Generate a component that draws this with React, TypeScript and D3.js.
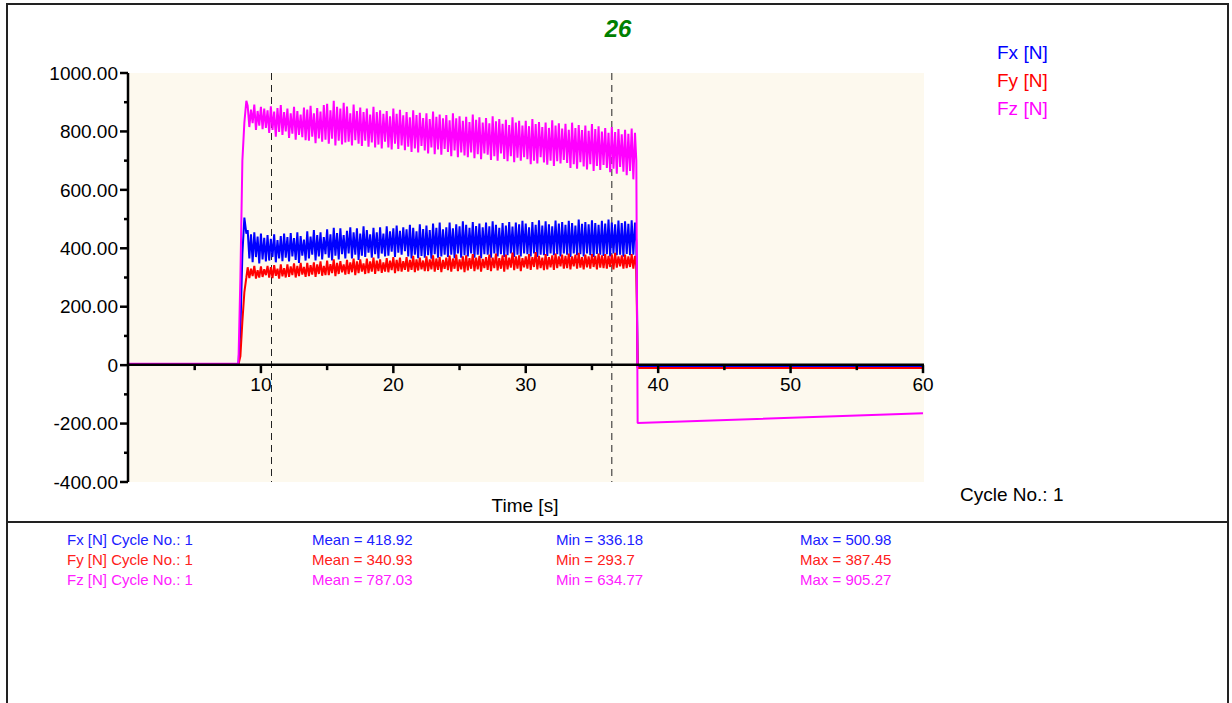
import React from "react";
import * as d3 from "d3";

const title = "26";
const seriesNames = ["Fx [N]", "Fy [N]", "Fz [N]"];
const seriesColors = ["#0000ff", "#ff0000", "#ff00ff"];
const statColors = ["#2020ff", "#ff2020", "#ff20ff"];
const xTicks = [10, 20, 30, 40, 50, 60];
const xMinorTicks = [5, 15, 25, 35, 45, 55];
const yTicks = [-400, -200, 0, 200, 400, 600, 800, 1000];
const yTickLabels = ["-400.00", "-200.00", "0", "200.00", "400.00", "600.00", "800.00", "1000.00"];
const yMinorTicks = [-300, -100, 100, 300, 500, 700, 900];
const cursorTimes = [10.8, 36.5];

// lead-in (before oscillating section)
const leadTimes = [0, 8.3, 8.45, 8.6, 8.75, 8.9];
const fxLead = [2, 2, 120, 380, 505, 450];
const fyLead = [2, 2, 30, 150, 250, 300];
const fzLead = [5, 5, 300, 700, 830, 905];

// oscillating section, sampled every 0.125 s from 9.0 s
const oscStart = 9.0;
const oscStep = 0.125;
const fzOsc = [
  888, 815, 875, 828, 892, 805, 870, 820, 884, 808, 878, 812,
  872, 795, 886, 805, 868, 782, 880, 798, 890, 788, 866, 800,
  878, 778, 862, 792, 884, 772, 870, 788, 858, 780, 882, 770,
  875, 768, 888, 782, 862, 760, 880, 776, 868, 765, 890, 772,
  895, 758, 872, 775, 905, 752, 884, 768, 878, 755, 898, 762,
  885, 765, 862, 752, 892, 770, 870, 758, 882, 750, 866, 768,
  878, 748, 858, 762, 884, 745, 866, 755, 872, 742, 860, 765,
  870, 745, 852, 738, 878, 758, 860, 740, 874, 752, 855, 736,
  866, 748, 848, 730, 872, 742, 856, 728, 864, 750, 846, 735,
  862, 725, 842, 745, 868, 722, 850, 738, 858, 720, 845, 740,
  856, 730, 838, 715, 862, 735, 845, 712, 852, 728, 836, 718,
  850, 712, 832, 728, 858, 708, 840, 722, 848, 705, 830, 725,
  846, 720, 828, 702, 852, 715, 835, 700, 842, 725, 826, 706,
  840, 698, 822, 715, 848, 695, 830, 710, 836, 700, 820, 712,
  836, 705, 818, 688, 842, 700, 825, 690, 832, 712, 815, 694,
  830, 686, 812, 700, 838, 682, 820, 698, 828, 690, 810, 702,
  826, 692, 806, 675, 830, 688, 812, 672, 822, 695, 805, 680,
  820, 670, 802, 688, 825, 665, 808, 682, 818, 668, 800, 685,
  812, 675, 795, 660, 815, 672, 798, 655, 808, 678, 790, 662,
  806, 650, 792, 665, 810, 636, 795,
];
const fxOsc = [
  462, 365, 448, 352, 455, 370, 440, 348, 450, 362, 436, 355,
  445, 358, 432, 370, 448, 352, 428, 365, 442, 356, 450, 368,
  438, 355, 452, 372, 435, 360, 455, 350, 442, 375, 430, 358,
  458, 365, 440, 378, 462, 358, 445, 372, 455, 362, 438, 380,
  465, 368, 448, 358, 470, 375, 452, 362, 468, 380, 445, 365,
  460, 382, 472, 365, 455, 378, 468, 360, 450, 375, 475, 370,
  462, 385, 448, 368, 470, 380, 455, 365, 472, 382, 450, 372,
  475, 375, 458, 388, 468, 370, 478, 385, 460, 378, 472, 390,
  465, 372, 480, 365, 470, 378, 458, 366, 482, 374, 466, 368,
  478, 376, 462, 364, 485, 380, 470, 368, 488, 372, 465, 378,
  472, 370, 488, 378, 468, 366, 482, 382, 475, 368, 492, 376,
  480, 372, 470, 382, 490, 368, 476, 378, 485, 366, 472, 380,
  488, 378, 475, 368, 492, 382, 480, 372, 470, 380, 486, 370,
  478, 376, 490, 382, 474, 370, 488, 378, 482, 372, 494, 382,
  485, 380, 472, 372, 490, 382, 480, 370, 496, 378, 478, 376,
  492, 374, 482, 382, 475, 376, 495, 380, 485, 372, 490, 382,
  480, 378, 494, 370, 486, 382, 478, 376, 498, 380, 484, 372,
  490, 382, 482, 376, 496, 370, 486, 381, 480, 378, 494, 374,
  485, 380, 498, 372, 488, 382, 482, 376, 495, 378, 486, 371,
  492, 381, 484, 376, 496, 378, 488,
];
const fyOsc = [
  335, 298, 330, 305, 340, 296, 325, 300, 338, 302, 328, 308,
  340, 300, 335, 298, 342, 306, 330, 296, 345, 304, 332, 300,
  345, 302, 338, 308, 348, 300, 340, 305, 350, 310, 336, 302,
  350, 305, 342, 310, 352, 302, 345, 312, 355, 306, 340, 308,
  358, 308, 346, 315, 362, 305, 350, 312, 356, 318, 345, 310,
  360, 312, 352, 318, 365, 308, 355, 315, 362, 320, 348, 312,
  365, 315, 355, 320, 368, 312, 358, 322, 362, 316, 352, 320,
  366, 318, 358, 325, 370, 315, 360, 322, 368, 320, 356, 326,
  370, 320, 360, 326, 374, 318, 362, 324, 368, 328, 358, 322,
  372, 322, 362, 328, 376, 320, 365, 326, 370, 318, 360, 330,
  368, 325, 375, 320, 365, 330, 378, 322, 362, 328, 372, 318,
  376, 324, 366, 330, 380, 322, 368, 328, 374, 320, 364, 332,
  370, 326, 378, 322, 368, 332, 382, 324, 366, 330, 376, 320,
  378, 328, 368, 334, 385, 325, 372, 330, 376, 322, 366, 335,
  372, 330, 380, 326, 370, 336, 387, 328, 374, 332, 368, 325,
  380, 328, 370, 335, 376, 326, 382, 332, 372, 338, 378, 330,
  374, 332, 382, 328, 372, 338, 378, 330, 384, 334, 370, 328,
  378, 335, 372, 330, 380, 336, 374, 328, 382, 334, 376, 332,
  380, 330, 374, 336, 378, 328, 384, 334, 372, 338, 376, 330,
  378, 332, 372, 336, 380, 330, 374,
];

// tail (after release)
const tailTimes = [38.35, 38.45, 60];
const fxTail = [420, -6, -6];
const fyTail = [340, -10, -10];
const fzTail = [700, -198, -165];

const statMean = ["418.92", "340.93", "787.03"];
const statMin = ["336.18", "293.7", "634.77"];
const statMax = ["500.98", "387.45", "905.27"];
const cycleLabel = "Cycle No.: 1";

const FONT = "'Liberation Sans', Arial, sans-serif";

function buildSeries(lead: number[], osc: number[], tail: number[]): [number, number][] {
  const pts: [number, number][] = [];
  leadTimes.forEach((t, i) => pts.push([t, lead[i]]));
  osc.forEach((v, i) => pts.push([oscStart + i * oscStep, v]));
  tailTimes.forEach((t, i) => pts.push([t, tail[i]]));
  return pts;
}

export default function App() {
  const W = 1232;
  const H = 703;
  const x = d3.scaleLinear().domain([0, 60]).range([128.5, 923]);
  const y = d3.scaleLinear().domain([-400, 1000]).range([482, 73]);
  const line = d3
    .line<[number, number]>()
    .x((d) => x(d[0]))
    .y((d) => y(d[1]));

  const series = [
    buildSeries(fxLead, fxOsc, fxTail),
    buildSeries(fyLead, fyOsc, fyTail),
    buildSeries(fzLead, fzOsc, fzTail),
  ];

  const x0 = x(0);
  const x1 = x(60);
  const yTop = y(1000);
  const yBot = y(-400);
  const yZero = y(0);

  const statCols = [67, 312, 556, 800];

  return (
    <svg
      width={W}
      height={H}
      style={{ position: "absolute", left: 0, top: 0, background: "#fff" }}
      fontFamily={FONT}
    >
      <rect x={0} y={0} width={W} height={H} fill="#fff" />
      {/* frame */}
      <rect x={7} y={4} width={1221} height={720} fill="none" stroke="#222" strokeWidth={2} />
      <line x1={7} x2={1228} y1={522} y2={522} stroke="#222" strokeWidth={2} />

      {/* plot background */}
      <rect x={x0} y={yTop} width={x1 - x0 + 1} height={yBot - yTop} fill="#fdf9ee" />

      {/* title */}
      <text x={618} y={37} textAnchor="middle" fill="#008000" fontSize={24} fontWeight="bold" fontStyle="italic">
        {title}
      </text>

      {/* cursors */}
      {cursorTimes.map((t, i) => (
        <line key={i} x1={x(t)} x2={x(t)} y1={yTop} y2={yBot} stroke="#222" strokeWidth={1} strokeDasharray="7,5" />
      ))}

      {/* series */}
      {series.map((s, i) => (
        <path
          key={i}
          d={line(s) || ""}
          fill="none"
          stroke={seriesColors[i]}
          strokeWidth={2}
          strokeLinejoin="bevel"
        />
      ))}

      {/* y axis */}
      <line x1={128} x2={128} y1={yTop} y2={yBot} stroke="#000" strokeWidth={2.5} />
      {yTicks.map((v, i) => (
        <g key={v}>
          <line x1={120} x2={128} y1={y(v)} y2={y(v)} stroke="#000" strokeWidth={2.5} />
          <text x={118} y={y(v)} dy="0.35em" textAnchor="end" fontSize={19} fill="#000">
            {yTickLabels[i]}
          </text>
        </g>
      ))}
      {yMinorTicks.map((v) => (
        <line key={v} x1={124} x2={128} y1={y(v)} y2={y(v)} stroke="#000" strokeWidth={2.5} />
      ))}

      {/* x axis at zero */}
      <line x1={128} x2={x1 + 1} y1={yZero - 0.5} y2={yZero - 0.5} stroke="#000" strokeWidth={2.5} />
      {xTicks.map((v) => (
        <g key={v}>
          <line x1={x(v)} x2={x(v)} y1={yZero} y2={yZero + 8} stroke="#000" strokeWidth={2.5} />
          <text x={x(v)} y={yZero + 26} textAnchor="middle" fontSize={19} fill="#000">
            {v}
          </text>
        </g>
      ))}
      {xMinorTicks.map((v) => (
        <line key={v} x1={x(v)} x2={x(v)} y1={yZero} y2={yZero + 5} stroke="#000" strokeWidth={2.5} />
      ))}

      {/* axis title */}
      <text x={525} y={512} textAnchor="middle" fontSize={19} fill="#000">
        Time [s]
      </text>
      <text x={960} y={501} fontSize={19} fill="#000">
        {cycleLabel}
      </text>

      {/* legend */}
      {seriesNames.map((n, i) => (
        <text key={n} x={997} y={59 + i * 28} fontSize={19} fill={seriesColors[i]}>
          {n}
        </text>
      ))}

      {/* statistics */}
      {seriesNames.map((n, i) => (
        <g key={n} fontSize={15} fill={statColors[i]}>
          <text x={statCols[0]} y={545 + i * 20}>{`${n} ${cycleLabel}`}</text>
          <text x={statCols[1]} y={545 + i * 20}>{`Mean = ${statMean[i]}`}</text>
          <text x={statCols[2]} y={545 + i * 20}>{`Min = ${statMin[i]}`}</text>
          <text x={statCols[3]} y={545 + i * 20}>{`Max = ${statMax[i]}`}</text>
        </g>
      ))}
    </svg>
  );
}
